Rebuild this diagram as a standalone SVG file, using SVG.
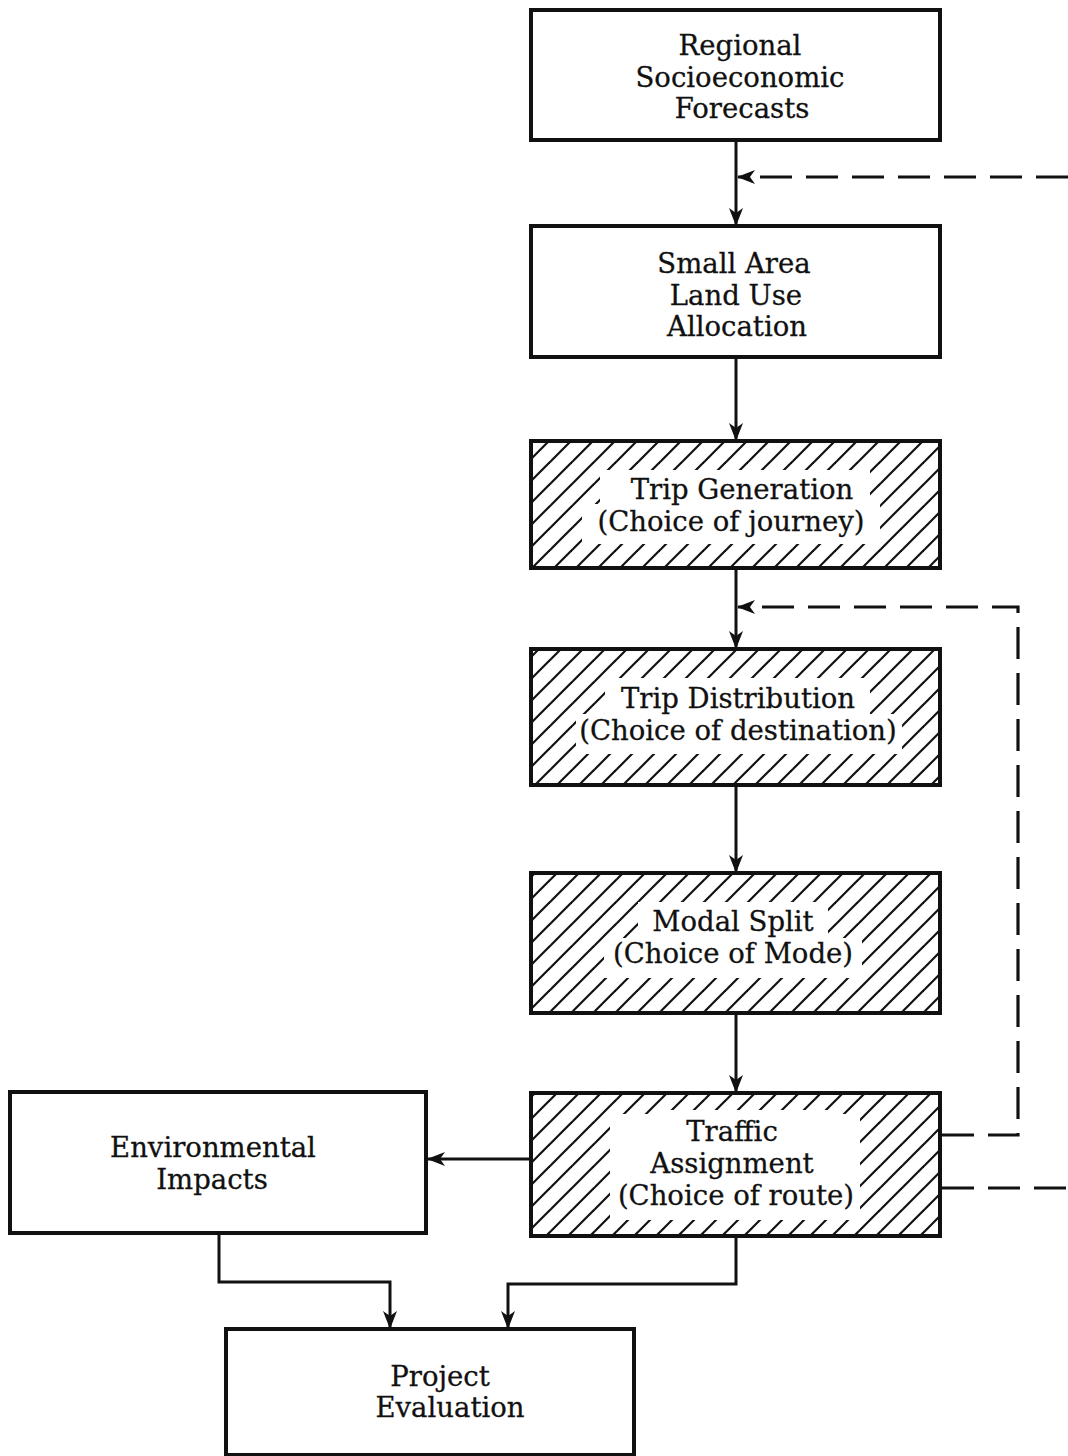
<svg xmlns="http://www.w3.org/2000/svg" width="1068" height="1456" viewBox="0 0 1068 1456">
<defs>
<pattern id="hatch" patternUnits="userSpaceOnUse" width="22" height="22">
<line x1="-2" y1="24" x2="24" y2="-2" stroke="#111" stroke-width="2.2"/>
<line x1="-5" y1="5" x2="5" y2="-5" stroke="#111" stroke-width="2.2"/>
<line x1="17" y1="27" x2="27" y2="17" stroke="#111" stroke-width="2.2"/>
</pattern>
<marker id="arr" viewBox="0 0 18 14" refX="17" refY="7" markerWidth="18" markerHeight="14" markerUnits="userSpaceOnUse" orient="auto">
<path d="M0,0 L18,7 L0,14 L5,7 Z" fill="#111"/>
</marker>
</defs>
<style>
.box{fill:#fff;stroke:#111;stroke-width:4}
.hbox{fill:url(#hatch);stroke:#111;stroke-width:4}
.clear{fill:#fff}
.t{font-family:"DejaVu Serif","Liberation Serif",serif;font-size:27.5px;fill:#111;stroke:#111;stroke-width:0.3;text-anchor:middle}
.ln{fill:none;stroke:#111;stroke-width:3}
.dash{fill:none;stroke:#111;stroke-width:3.2;stroke-dasharray:32 14}
</style>
<rect width="1068" height="1456" fill="#fff"/>

<g id="connectors">
<line class="ln" x1="736" y1="140" x2="736" y2="225" marker-end="url(#arr)"/>
<line class="ln" x1="736" y1="357" x2="736" y2="440" marker-end="url(#arr)"/>
<line class="ln" x1="736" y1="568" x2="736" y2="648" marker-end="url(#arr)"/>
<line class="ln" x1="736" y1="785" x2="736" y2="872" marker-end="url(#arr)"/>
<line class="ln" x1="736" y1="1013" x2="736" y2="1092" marker-end="url(#arr)"/>
<line class="ln" x1="531" y1="1159" x2="428" y2="1159" marker-end="url(#arr)"/>
<polyline class="ln" points="219,1233 219,1282 390,1282 390,1328" marker-end="url(#arr)"/>
<polyline class="ln" points="736,1236 736,1284 508,1284 508,1328" marker-end="url(#arr)"/>
<line class="dash" x1="1068" y1="177" x2="738" y2="177" marker-end="url(#arr)"/>
<polyline class="dash" points="942,1135 1018,1135 1018,607 738,607" marker-end="url(#arr)"/>
<line class="dash" x1="942" y1="1188" x2="1068" y2="1188"/>
</g>

<g id="regional">
<rect class="box" x="531" y="10" width="409" height="130"/>
<text class="t" x="740" y="55">Regional</text>
<text class="t" x="740" y="87">Socioeconomic</text>
<text class="t" x="742" y="118">Forecasts</text>
</g>

<g id="landuse">
<rect class="box" x="531" y="226" width="409" height="131"/>
<text class="t" x="734" y="273">Small Area</text>
<text class="t" x="736" y="305">Land Use</text>
<text class="t" x="737" y="336">Allocation</text>
</g>

<g id="tripgen">
<rect class="hbox" x="531" y="441" width="409" height="127"/>
<rect class="clear" x="600" y="470" width="270" height="36"/>
<rect class="clear" x="582" y="504" width="298" height="40"/>
<text class="t" x="742" y="499">Trip Generation</text>
<text class="t" x="731" y="531">(Choice of journey)</text>
</g>

<g id="tripdist">
<rect class="hbox" x="531" y="649" width="409" height="136"/>
<rect class="clear" x="605" y="678" width="265" height="38"/>
<rect class="clear" x="576" y="714" width="326" height="40"/>
<text class="t" x="738" y="708">Trip Distribution</text>
<text class="t" x="738" y="740">(Choice of destination)</text>
</g>

<g id="modal">
<rect class="hbox" x="531" y="873" width="409" height="140"/>
<rect class="clear" x="638" y="902" width="190" height="38"/>
<rect class="clear" x="604" y="938" width="258" height="40"/>
<text class="t" x="733" y="931">Modal Split</text>
<text class="t" x="733" y="963">(Choice of Mode)</text>
</g>

<g id="traffic">
<rect class="hbox" x="531" y="1093" width="409" height="143"/>
<rect class="clear" x="610" y="1114" width="250" height="106"/>
<rect class="clear" x="660" y="1110" width="180" height="8"/>
<text class="t" x="732" y="1141">Traffic</text>
<text class="t" x="732" y="1173">Assignment</text>
<text class="t" x="736" y="1205">(Choice of route)</text>
</g>

<g id="environmental">
<rect class="box" x="10" y="1092" width="416" height="141"/>
<text class="t" x="213" y="1157">Environmental</text>
<text class="t" x="212" y="1189">Impacts</text>
</g>

<g id="evaluation">
<rect class="box" x="226" y="1329" width="408" height="126"/>
<text class="t" x="440" y="1386">Project</text>
<text class="t" x="450" y="1417">Evaluation</text>
</g>
</svg>
